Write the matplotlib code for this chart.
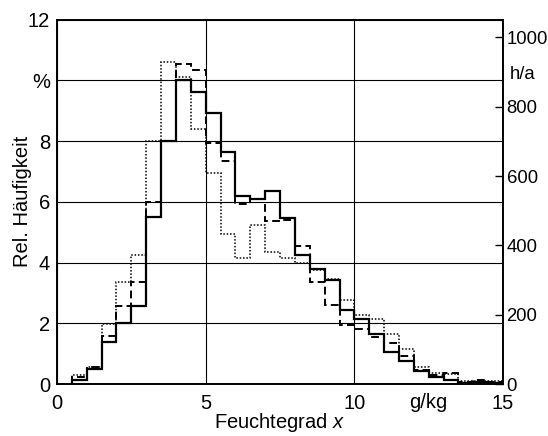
import numpy as np
import matplotlib
matplotlib.use("Agg")
import matplotlib.pyplot as plt

plt.rcParams['font.family'] = ['Liberation Sans', 'DejaVu Sans']
plt.rcParams['mathtext.fontset'] = 'custom'
plt.rcParams['mathtext.it'] = 'Liberation Sans:italic'

# ------------------------------ data (Rel. Häufigkeit in % je 0,5 g/kg) ------------------------------
edges = np.arange(0.5, 15.01, 0.5)
solid = [0.15, 0.50, 1.39, 2.00, 2.57, 5.50, 8.00, 10.00, 9.63, 8.93,
         7.63, 6.20, 6.10, 6.35, 5.46, 4.25, 3.80, 3.42, 2.45, 2.16,
         1.65, 1.05, 0.76, 0.43, 0.24, 0.13, 0.05, 0.08, 0.05]
dashed = [0.22, 0.55, 1.59, 2.57, 3.36, 6.00, 8.00, 10.53, 10.33, 7.95,
          7.35, 5.93, 6.10, 5.36, 5.40, 4.55, 3.36, 2.60, 1.94, 1.83,
          1.55, 1.34, 0.92, 0.48, 0.30, 0.35, 0.08, 0.15, 0.08]
dotted = [0.30, 0.57, 1.97, 3.36, 4.24, 8.00, 10.62, 10.10, 8.40, 6.95,
          4.95, 4.16, 5.24, 4.35, 4.16, 4.00, 3.75, 3.45, 2.78, 2.27,
          2.16, 1.66, 1.17, 0.55, 0.35, 0.33, 0.10, 0.10, 0.10]

left_ticks = [0, 2, 4, 6, 8, 10, 12]
left_labels = ['0', '2', '4', '6', '8', '%', '12']
x_ticks = [0, 5, 10, 15]
right_ticks = [0, 200, 400, 600, 800, 1000]
hours_per_year = 8760

# ------------------------------ figure ------------------------------
fig = plt.figure(figsize=(5.48, 4.36), dpi=100)
ax = fig.add_axes([0.104, 0.119, 0.814, 0.836])
fs = 13.3
fs_lab = 14.5

ax.stairs(solid, edges, baseline=0, color='black', lw=1.6, ls='-')
ax.stairs(dashed, edges, baseline=0, color='black', lw=1.4, ls=(0, (4, 2.2)))
ax.stairs(dotted, edges, baseline=0, color='black', lw=1.1, ls=(0, (1, 1.2)))

ax.set_xlim(0, 15)
ax.set_ylim(0, 12)
ax.set_xticks(x_ticks)
ax.set_yticks(left_ticks)
ax.set_yticklabels(left_labels)
ax.tick_params(axis='x', length=0, labelsize=fs_lab, pad=7)
ax.tick_params(axis='y', length=0, labelsize=fs_lab, pad=5)
ax.grid(True, color='black', lw=0.8)
ax.set_axisbelow(True)
for s in ax.spines.values():
    s.set_linewidth(1.2)

ax.set_xlabel('Feuchtegrad $x$', fontsize=fs_lab, labelpad=-1)
ax.set_ylabel('Rel. Häufigkeit', fontsize=fs_lab, labelpad=-3)
ax.text(12.5, -0.3, 'g/kg', fontsize=fs_lab, ha='center', va='top')

# right axis in h/a
ax2 = ax.twinx()
ax2.set_ylim(0, 12 * hours_per_year / 100)
ax2.set_yticks(right_ticks)
ax2.tick_params(axis='y', direction='in', length=6, width=1.0, labelsize=fs, pad=2.5)
ax2.text(1.014, 10.2 / 12, 'h/a', transform=ax.transAxes, fontsize=fs,
         ha='left', va='center')
for s in ax2.spines.values():
    s.set_linewidth(1.2)

fig.savefig('out.png', dpi=100)
